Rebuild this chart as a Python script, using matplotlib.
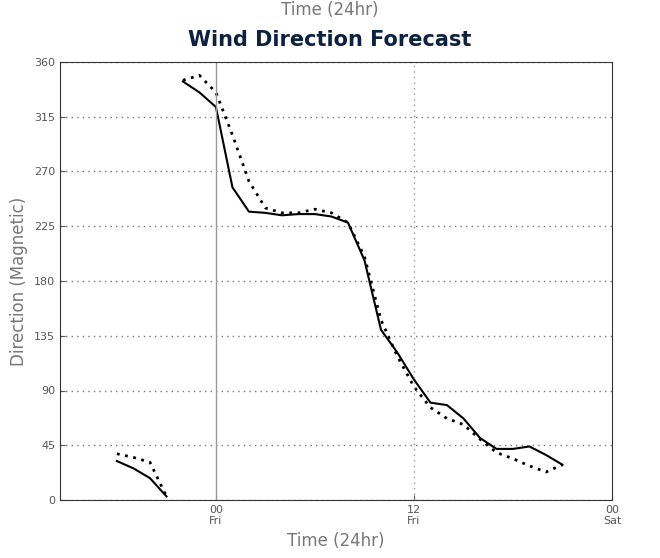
import matplotlib
matplotlib.use("Agg")
import matplotlib.pyplot as plt

hours_a = [-6, -5, -4, -3]
solid_a = [32, 26, 18, 3]
dotted_a = [38, 35, 31, 3]

hours_b = list(range(-2, 22))
solid_b = [344, 335, 323, 257, 237, 236, 234, 235, 235, 233, 228, 197, 140, 121, 99, 80,
           78, 67, 51, 42, 42, 44, 37, 29]
dotted_b = [345, 349, 335, 300, 262, 240, 236, 236, 239, 236, 228, 200, 148, 118, 93, 76,
            67, 62, 50, 39, 34, 28, 23, 29]

tick_pos = [0, 12, 24]
tick_labels = ["00\nFri", "12\nFri", "00\nSat"]
y_ticks = list(range(0, 361, 45))

fig = plt.figure(figsize=(6.6, 5.58), dpi=100)
ax = fig.add_axes([60 / 660, 58 / 558, 552 / 660, 438 / 558])

ax.plot(hours_a, solid_a, color="black", lw=1.5)
ax.plot(hours_a, dotted_a, color="black", lw=2, linestyle=(0, (1, 2)))
ax.plot(hours_b, solid_b, color="black", lw=1.5)
ax.plot(hours_b, dotted_b, color="black", lw=2, linestyle=(0, (1, 2)))

ax.set_xlim(-9.45, 24)
ax.set_ylim(0, 360)
ax.set_yticks(y_ticks)
ax.set_xticks(tick_pos)
ax.set_xticklabels(tick_labels)
ax.tick_params(labelsize=8, colors="#555555", direction="in")
ax.grid(axis="y", color="#777777", linestyle=(0, (1, 3)), lw=1)
ax.axvline(0, color="#999999", lw=1)
ax.axvline(12, color="#999999", linestyle=(0, (1, 3)), lw=1)
for s in ax.spines.values():
    s.set_color("#333333")

ax.set_xlabel("Time (24hr)", fontsize=12, color="#777777")
ax.set_ylabel("Direction (Magnetic)", fontsize=12, color="#777777")
fig.text(0.5, 0.982, "Time (24hr)", ha="center", va="center", fontsize=12, color="#777777")
fig.text(0.5, 0.928, "Wind Direction Forecast", ha="center", va="center",
         fontsize=15, fontweight="bold", color="#0d2240")

fig.savefig("out.png", dpi=100)
